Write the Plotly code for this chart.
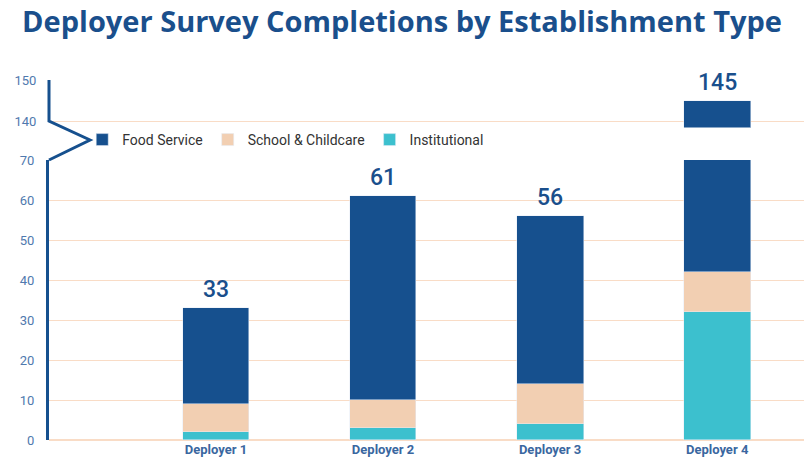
import plotly.graph_objects as go

categories = ["Deployer 1", "Deployer 2", "Deployer 3", "Deployer 4"]
institutional = [2, 3, 4, 32]
school_childcare = [7, 7, 10, 10]
food_service = [24, 51, 42, 103]
totals = [33, 61, 56, 145]

series = [
    ("Institutional", institutional, "#3cc0ce"),
    ("School & Childcare", school_childcare, "#f2cfb2"),
    ("Food Service", food_service, "#16508e"),
]

BLUE = "#1a4f8c"
GRID = "#f9dcc6"
FONT = "Roboto"

fig = go.Figure()
for name, vals, col in series:
    fig.add_trace(go.Bar(x=categories, y=vals, name=name, marker_color=col,
                         width=0.4, yaxis="y", xaxis="x", showlegend=True))
for name, vals, col in series:
    fig.add_trace(go.Bar(x=categories, y=vals, name=name, marker_color=col,
                         width=0.4, yaxis="y2", xaxis="x", showlegend=False))

annotations = []
for c, t in zip(categories, totals):
    ref = "y2" if t > 70 else "y"
    annotations.append(dict(x=c, y=t, xref="x", yref=ref, text=str(t),
                            showarrow=False, yanchor="bottom", yshift=3,
                            font=dict(size=23, color=BLUE, family=FONT, weight=500)))

fig.update_layout(
    width=804, height=464,
    margin=dict(l=49, r=0, t=80, b=24),
    paper_bgcolor="white", plot_bgcolor="white",
    barmode="stack", bargap=0,
    title=dict(text="<b>Deployer Survey Completions by Establishment Type</b>",
               x=0.5, xanchor="center", y=0.953, yanchor="middle",
               font=dict(size=29, color=BLUE, family="Open Sans")),
    xaxis=dict(type="category", range=[-1, 3.52], showgrid=False,
               showline=False, zeroline=False, ticks="",
               tickfont=dict(size=13, color="#3a67a0", family=FONT, weight="bold")),
    yaxis=dict(domain=[0, 280/360], range=[0, 70], dtick=10,
               showgrid=True, gridcolor=GRID, gridwidth=1,
               zeroline=True, zerolinecolor=GRID,
               showline=True, linecolor="#16508e", linewidth=3,
               ticks="outside", ticklen=9, tickcolor="rgba(0,0,0,0)",
               tickfont=dict(size=13, color="#5079ae", family=FONT)),
    yaxis2=dict(domain=[(440-127.6)/360, 1], range=[138.4, 150], dtick=10,
                tickvals=[140, 150], anchor="x",
                showgrid=True, gridcolor=GRID, gridwidth=1,
                zeroline=False, showline=False,
                ticks="outside", ticklen=9, tickcolor="rgba(0,0,0,0)",
                tickfont=dict(size=13, color="#5079ae", family=FONT)),
    legend=dict(orientation="h", x=0.044, xanchor="left", y=300/360, yanchor="middle",
                traceorder="reversed", itemwidth=30,
                font=dict(size=14, color="#333333", family=FONT),
                bgcolor="rgba(0,0,0,0)"),
    annotations=annotations,
    shapes=[dict(type="path", xref="paper", yref="paper",
                 path="M 0,1 L 0,0.8861 L 0.0543,0.8333 L 0,0.7778",
                 line=dict(color="#16508e", width=3))],
)

fig.write_html("out.html")
